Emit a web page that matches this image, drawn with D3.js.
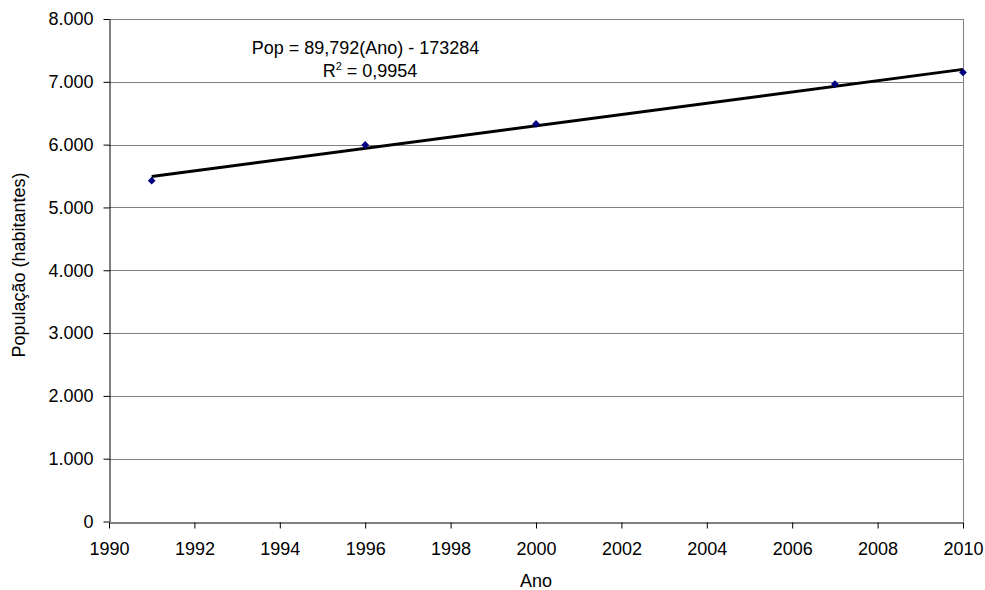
<!DOCTYPE html>
<html>
<head>
<meta charset="utf-8">
<script src="https://cdn.jsdelivr.net/npm/d3@7"></script>
<style>
  body { margin: 0; background: #fff; }
  text { font-family: "Liberation Sans", Arial, sans-serif; }
</style>
</head>
<body>
<script>
"use strict";

let width = 985;
let height = 590;

// data
let years = [1991, 1996, 2000, 2007, 2010];
let population = [5425, 5995, 6330, 6965, 7150];
let yTicks = [0, 1000, 2000, 3000, 4000, 5000, 6000, 7000, 8000];
let xTicks = [1990, 1992, 1994, 1996, 1998, 2000, 2002, 2004, 2006, 2008, 2010];
let slope = 89.792;
let intercept = -173284;

let margin = { top: 19, right: 22, bottom: 69, left: 109 };
let fontSize = 18;

let svg = d3.select("body").append("svg").attr("width", width).attr("height", height);

let x = d3.scaleLinear().domain([1990, 2010]).range([margin.left, width - margin.right]);
let y = d3.scaleLinear().domain([0, 8000]).range([height - margin.bottom + 0.5, margin.top]);

let fmt = d3.formatLocale({ decimal: ",", thousands: ".", grouping: [3], currency: ["", ""] }).format(",d");

// grid lines
svg.append("g")
  .selectAll("line")
  .data(yTicks.slice(1))
  .enter()
  .append("line")
  .attr("x1", x(1990))
  .attr("x2", x(2010))
  .attr("y1", d => Math.round(y(d)) + 0.5)
  .attr("y2", d => Math.round(y(d)) + 0.5)
  .attr("stroke", "#808080")
  .attr("stroke-width", 1);

// right border
svg.append("line")
  .attr("x1", Math.round(x(2010)) + 0.5).attr("x2", Math.round(x(2010)) + 0.5)
  .attr("y1", y(8000)).attr("y2", y(0))
  .attr("stroke", "#808080");

svg.append("g")
  .attr("transform", "translate(" + (margin.left + 0.5) + ",0)")
  .call(d3.axisLeft(y).tickValues(yTicks).tickFormat(fmt).tickSize(6).tickPadding(10).tickSizeOuter(0));

svg.append("g")
  .attr("transform", "translate(0," + (Math.round(y(0)) + 0.5) + ")")
  .call(d3.axisBottom(x).tickValues(xTicks).tickFormat(d3.format("d")).tickSize(6).tickPadding(14).tickSizeOuter(0));

svg.selectAll(".tick text").attr("font-size", fontSize).attr("fill", "#000")
  .style("font-family", "'Liberation Sans', Arial, sans-serif");
svg.selectAll(".domain, .tick line").attr("stroke", "#000");

// trend line
let trend = [1991, 2010].map(d => [d, slope * d + intercept]);
svg.append("path")
  .attr("d", d3.line().x(d => x(d[0])).y(d => y(d[1]))(trend))
  .attr("fill", "none")
  .attr("stroke", "#000")
  .attr("stroke-width", 3);

// data points
svg.append("g")
  .selectAll("path")
  .data(years)
  .enter()
  .append("path")
  .attr("d", d3.symbol().type(d3.symbolSquare).size(30))
  .attr("transform", (d, i) => "translate(" + x(d) + "," + y(population[i]) + ") rotate(45)")
  .attr("fill", "#000080");

// equation
svg.append("text")
  .attr("x", 365.5)
  .attr("y", 54)
  .attr("text-anchor", "middle")
  .attr("font-size", fontSize)
  .text("Pop = " + d3.format(".3f")(slope).replace(".", ",") + "(Ano) - " + (-intercept));

let r2 = svg.append("text")
  .attr("x", 370)
  .attr("y", 77)
  .attr("text-anchor", "middle")
  .attr("font-size", fontSize);
r2.append("tspan").text("R");
r2.append("tspan").attr("dy", -7).attr("font-size", 11).text("2");
r2.append("tspan").attr("dy", 7).text(" = 0,9954");

// axis titles
svg.append("text")
  .attr("x", (x(1990) + x(2010)) / 2)
  .attr("y", 587)
  .attr("text-anchor", "middle")
  .attr("font-size", fontSize)
  .text("Ano");

svg.append("text")
  .attr("transform", "translate(25,265) rotate(-90)")
  .attr("text-anchor", "middle")
  .attr("font-size", fontSize)
  .text("População (habitantes)");
</script>
</body>
</html>
